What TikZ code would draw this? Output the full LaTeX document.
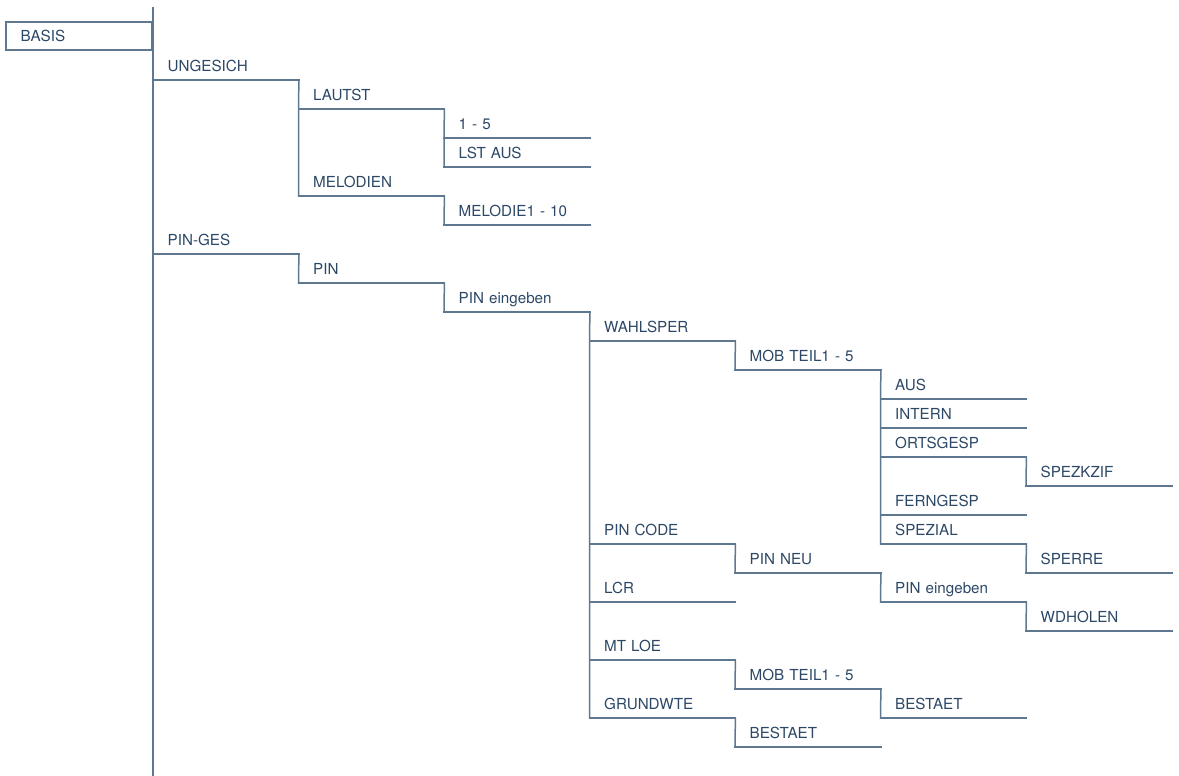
\documentclass[tikz,border=0pt]{standalone}
\usepackage{fontspec}
\setmainfont{TeX Gyre Heros}
\definecolor{menuline}{HTML}{5E7890}
\definecolor{menutext}{HTML}{2C4866}
\tikzset{
  entry/.style={anchor=south west, text width=116.5pt, inner xsep=14.5pt, inner ysep=8pt,
    text height=11pt, text depth=0pt, align=left, text=menutext,
    font=\fontsize{15.2pt}{18pt}\selectfont},
  wire/.style={draw=menuline, line width=1.5pt, line cap=rect}
}
\begin{document}
\begin{tikzpicture}[x=145.5pt, y=-29pt]
\useasboundingbox (-153pt,22pt) rectangle (1026pt,-754pt);
\coordinate (top) at (0pt,14pt);
\coordinate (bottom) at (0pt,-754pt);
\node[entry, wire, anchor=south east, text width=117pt, minimum height=28pt] (basis) at (0,1) {BASIS};

% ungesichert
\node[entry] (ungesich) at (0,2) {UNGESICH};
\node[entry] (lautst) at (1,3) {LAUTST};
\node[entry] (eins) at (2,4) {1 - 5};
\node[entry] (lstaus) at (2,5) {LST AUS};
\node[entry] (melodien) at (1,6) {MELODIEN};
\node[entry] (melodie) at (2,7) {MELODIE1 - 10};

% pin-gesichert
\node[entry] (pinges) at (0,8) {PIN-GES};
\node[entry] (pin) at (1,9) {PIN};
\node[entry] (pinein) at (2,10) {PIN eingeben};
\node[entry] (wahlsper) at (3,11) {WAHLSPER};
\node[entry] (mobteil) at (4,12) {MOB TEIL1 - 5};
\node[entry] (aus) at (5,13) {AUS};
\node[entry] (intern) at (5,14) {INTERN};
\node[entry] (ortsgesp) at (5,15) {ORTSGESP};
\node[entry] (spezkzif) at (6,16) {SPEZKZIF};
\node[entry] (ferngesp) at (5,17) {FERNGESP};
\node[entry] (spezial) at (5,18) {SPEZIAL};
\node[entry] (sperre) at (6,19) {SPERRE};
\node[entry] (pincode) at (3,18) {PIN CODE};
\node[entry] (pinneu) at (4,19) {PIN NEU};
\node[entry] (pinneuein) at (5,20) {PIN eingeben};
\node[entry] (wdholen) at (6,21) {WDHOLEN};
\node[entry] (lcr) at (3,20) {LCR};
\node[entry] (mtloe) at (3,22) {MT LOE};
\node[entry] (mobteilb) at (4,23) {MOB TEIL1 - 5};
\node[entry] (bestaet) at (5,24) {BESTAET};
\node[entry] (grundwte) at (3,24) {GRUNDWTE};
\node[entry] (bestaetb) at (4,25) {BESTAET};

% underlines
\foreach \n in {ungesich,lautst,eins,lstaus,melodien,melodie,pinges,pin,pinein,
  wahlsper,mobteil,aus,intern,ortsgesp,spezkzif,ferngesp,spezial,sperre,pincode,
  pinneu,pinneuein,wdholen,lcr,mtloe,mobteilb,bestaet,grundwte,bestaetb}
  \draw[wire] (\n.south west) -- (\n.south east);

% steps
\draw[wire] (top) -- (bottom);
\draw[wire] (ungesich.south east) -- (lautst.south west) -- (melodien.south west);
\draw[wire] (lautst.south east) -- (eins.south west) -- (lstaus.south west);
\draw[wire] (melodien.south east) -- (melodie.south west);
\draw[wire] (pinges.south east) -- (pin.south west);
\draw[wire] (pin.south east) -- (pinein.south west);
\draw[wire] (pinein.south east) -- (wahlsper.south west) -- (grundwte.south west);
\draw[wire] (wahlsper.south east) -- (mobteil.south west);
\draw[wire] (mobteil.south east) -- (aus.south west) -- (spezial.south west);
\draw[wire] (ortsgesp.south east) -- (spezkzif.south west);
\draw[wire] (spezial.south east) -- (sperre.south west);
\draw[wire] (pincode.south east) -- (pinneu.south west);
\draw[wire] (pinneu.south east) -- (pinneuein.south west);
\draw[wire] (pinneuein.south east) -- (wdholen.south west);
\draw[wire] (mtloe.south east) -- (mobteilb.south west);
\draw[wire] (mobteilb.south east) -- (bestaet.south west);
\draw[wire] (grundwte.south east) -- (bestaetb.south west);
\end{tikzpicture}
\end{document}
